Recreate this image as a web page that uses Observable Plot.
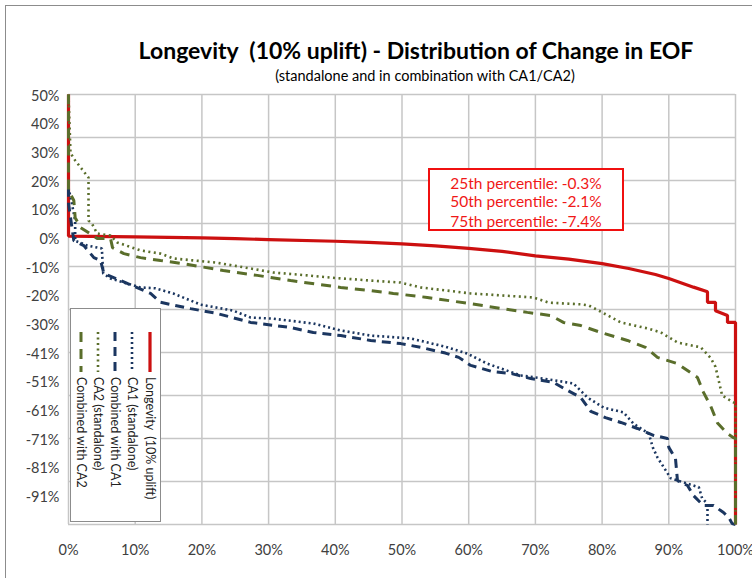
<!DOCTYPE html>
<html>
<head>
<meta charset="utf-8">
<script src="https://cdn.jsdelivr.net/npm/d3@7"></script>
<script src="https://cdn.jsdelivr.net/npm/@observablehq/plot@0.6"></script>
<style>
  html, body { margin: 0; padding: 0; background: #fff; }
  #wrap { position: relative; width: 752px; height: 578px; overflow: hidden; background: #fff; font-family: Lato, "Open Sans", sans-serif; }
  #frame { position: absolute; left: 5px; top: 5px; width: 800px; height: 640px; border: 1px solid #8c8c8c; box-sizing: border-box; }
  #chart { position: absolute; left: 0; top: 0; }
  .title { position: absolute; left: 0; width: 832px; text-align: center; white-space: pre; color: #000; }
  #t1 { top: 36px; font-size: 23px; font-weight: bold; }
  #t2 { top: 67px; font-size: 14.5px; left: 0; width: 850px; }
  #note { position: absolute; left: 428px; top: 168px; width: 196px; height: 63px; border: 2px solid #f01010; box-sizing: border-box; background: #fff; }
  .nl { position: absolute; left: 0; width: 100%; text-align: center; color: #f01818; font-size: 15.5px; line-height: 17px; }
  #legend { position: absolute; left: 70px; top: 308px; width: 91px; height: 214px; border: 1.5px solid #8c8c8c; box-sizing: border-box; background: #fff; }
</style>
</head>
<body>
<div id="wrap">
  <div id="frame"></div>
  <div id="chart"></div>
  <div class="title" id="t1"></div>
  <div class="title" id="t2"></div>
  <div id="note"></div>
  <div id="legend"></div>
</div>
<script>
// ---- Chart text ----
const titleText = "Longevity  (10% uplift) - Distribution of Change in EOF";
const subtitleText = "(standalone and in combination with CA1/CA2)";
const noteLines = ["25th percentile:  -0.3%", "50th percentile:  -2.1%", "75th percentile:  -7.4%"];

// ---- Axes ----
const xTicks = [0, 10, 20, 30, 40, 50, 60, 70, 80, 90, 100];
const yTickValues = [50, 40, 30, 20, 10, 0, -10, -20, -30, -40, -50, -60, -70, -80, -90];
const yTickLabels = ["50%", "40%", "30%", "20%", "10%", "0%", "-10%", "-20%", "-30%", "-41%", "-51%", "-61%", "-71%", "-81%", "-91%"];
const yGridValues = [50, 35, 20, 5, -10, -25, -40, -55, -70, -85, -100];

// ---- Series: [percentile %, change in EOF %] ----
const seriesNames = ["Longevity  (10% uplift)", "CA1 (standalone)", "Combined with CA1", "CA2 (standalone)", "Combined with CA2"];

const longevity = [[0,50],[0,0.6],[10,0.3],[20,0],[25,-0.3],[30,-0.6],[40,-1.2],[45,-1.6],[50,-2.1],[55,-2.8],[60,-3.7],[65,-4.7],[70,-6.3],[75,-7.4],[80,-9.0],[84,-10.7],[88,-12.8],[90,-14.2],[93.7,-17.2],[95.8,-18.8],[95.8,-22.5],[97,-22.5],[97,-25.4],[98.8,-27.1],[98.8,-29.5],[100,-29.5],[100,-100]];

const ca1 = [[0,17.5],[0.5,12],[1,6],[1,-1],[2.8,-2.7],[5,-3.7],[5.2,-12.4],[6.3,-14.2],[10.8,-17.3],[13,-17.6],[15.7,-19.4],[19.8,-23.3],[24.7,-25.4],[27.3,-27.8],[30.7,-28.2],[36.7,-29.9],[40.8,-32.3],[45.3,-34.1],[51.3,-35.1],[56.5,-38],[59.8,-40.4],[62.8,-43.9],[67.8,-48],[71.2,-49.1],[75.7,-50.8],[77.8,-55.7],[80.2,-59.2],[83.2,-60.9],[84.7,-64.8],[87,-68.3],[87.6,-73.1],[88.3,-76.6],[90.3,-83.9],[94.5,-87],[95,-90.9],[95.8,-92.7],[95.8,-100]];

const combCa1 = [[0,17.5],[0,12],[0.8,-1],[2.3,-2.7],[3.8,-6.9],[4.8,-7.9],[5.3,-12.4],[8.8,-15.9],[12.3,-19.4],[13.8,-22.5],[18.3,-24.7],[22.3,-26.4],[27.3,-29.5],[33.3,-31.3],[36.7,-33],[40.8,-34.1],[45.3,-35.8],[49.8,-36.9],[52.8,-38.2],[56.5,-40.2],[58.5,-41.7],[60.3,-44.5],[63.5,-46.6],[66.3,-47.3],[69.3,-49.1],[72.7,-50.4],[74.8,-53.2],[76.8,-55.7],[78.3,-60.5],[80.5,-62.7],[82.8,-64.4],[85.3,-66.5],[87.7,-68.9],[89.8,-70],[90,-73.1],[91,-77],[91.3,-84.7],[92.8,-86.4],[93.7,-89.9],[95.2,-93.4],[96.7,-93.4],[98.2,-95.8],[99,-97.6],[99.5,-99.7],[100,-100]];

const ca2 = [[0,50],[0.3,29.6],[1,27],[2,24],[3,21],[3,6],[3.5,5],[4.3,1.5],[6.3,0.8],[7.3,-1.6],[10.8,-4.4],[13.8,-5.5],[15.7,-7.2],[22,-8.6],[27.3,-10.7],[30.7,-12.1],[35.8,-13.1],[40,-14],[45.3,-14.9],[49.8,-15.6],[52.8,-17.3],[60.3,-19.4],[69.7,-20.8],[72,-22.6],[76.8,-23.2],[78,-23.6],[80,-26],[82.8,-29.5],[86.8,-31.6],[88.8,-33],[91.3,-36.5],[94.8,-38.2],[96.3,-42],[97,-45],[98,-55],[99.7,-57.4],[100,-57.4],[100,-100]];

const combCa2 = [[0,50],[0,16.5],[0.8,13],[1,7],[1.8,3.6],[4.3,-0.2],[6.3,-0.2],[6.6,-3.4],[8.3,-5.5],[10.8,-6.9],[13.8,-7.9],[17.2,-9],[23.2,-11.4],[28.3,-13.1],[33.3,-14.9],[40.8,-17.3],[45.3,-18.4],[48.7,-19.4],[53.8,-20.8],[60.3,-23],[68.8,-26],[72.3,-27.1],[74.2,-29.5],[76.8,-30.6],[79.8,-33],[83.8,-35.8],[86.5,-38.2],[88.3,-41.7],[91.3,-43.9],[94.3,-48.7],[95.2,-53.9],[96.3,-58.8],[97.3,-64.6],[98.8,-68.3],[99.7,-69.7],[100,-69.7],[100,-100]];

// ---- Styles ----
const styles = [
  {stroke: "#cc1010", strokeWidth: 3.2, dash: null},
  {stroke: "#1b3660", strokeWidth: 2.6, dash: "2,3"},
  {stroke: "#1b3660", strokeWidth: 3, dash: "9,6"},
  {stroke: "#5a6e2b", strokeWidth: 2.6, dash: "2,3.5"},
  {stroke: "#5a6e2b", strokeWidth: 3, dash: "10,7"}
];
const allSeries = [longevity, ca1, combCa1, ca2, combCa2];

const labelMap = new Map(yTickValues.map((v, i) => [v, yTickLabels[i]]));

const lineMarks = allSeries.map((s, i) => Plot.line(s, {
  x: d => d[0], y: d => d[1],
  stroke: styles[i].stroke, strokeWidth: styles[i].strokeWidth,
  strokeDasharray: styles[i].dash, strokeLinejoin: "miter", strokeLinecap: "butt"
}));

const chart = Plot.plot({
  width: 752, height: 578,
  marginLeft: 68, marginRight: 17, marginTop: 94, marginBottom: 54,
  style: {fontFamily: "Lato, 'Open Sans', sans-serif", fontSize: "14px", color: "#404040", background: "transparent"},
  x: {domain: [0, 100]},
  y: {domain: [-100, 50]},
  marks: [
    Plot.gridX(xTicks, {stroke: "#c6c6c6", strokeOpacity: 1, strokeWidth: 1.5}),
    Plot.gridY(yGridValues, {stroke: "#c6c6c6", strokeOpacity: 1, strokeWidth: 1.5}),
    Plot.axisX(xTicks, {tickSize: 0, tickPadding: 20, tickFormat: d => d + "%", label: null, fontSize: 14.5}),
    Plot.axisY(yTickValues, {tickSize: 0, tickPadding: 9, dy: 1.5, tickFormat: d => labelMap.get(d), label: null, fontSize: 14.5}),
    ...lineMarks
  ]
});
document.getElementById("chart").appendChild(chart);

document.getElementById("t1").textContent = titleText;
document.getElementById("t2").textContent = subtitleText;

const note = document.getElementById("note");
const noteTops = [5, 23, 43];
noteLines.forEach((t, i) => {
  const d = document.createElement("div");
  d.className = "nl"; d.style.top = noteTops[i] + "px"; d.textContent = t;
  note.appendChild(d);
});

// ---- Legend (rotated) ----
const ns = "http://www.w3.org/2000/svg";
const lg = document.createElementNS(ns, "svg");
lg.setAttribute("width", 88); lg.setAttribute("height", 211);
lg.style.position = "absolute"; lg.style.left = "0"; lg.style.top = "0";
const legendX = [79, 61, 44, 27, 10];
seriesNames.forEach((name, i) => {
  const l = document.createElementNS(ns, "line");
  l.setAttribute("x1", legendX[i]); l.setAttribute("x2", legendX[i]);
  l.setAttribute("y1", 23); l.setAttribute("y2", 63);
  l.setAttribute("stroke", styles[i].stroke);
  l.setAttribute("stroke-width", styles[i].strokeWidth);
  if (styles[i].dash) l.setAttribute("stroke-dasharray", styles[i].dash);
  lg.appendChild(l);
  const t = document.createElementNS(ns, "text");
  t.setAttribute("transform", `translate(${legendX[i]},68) rotate(90)`);
  t.setAttribute("dominant-baseline", "central");
  t.setAttribute("font-size", "12.5");
  t.setAttribute("font-family", "Lato, 'Open Sans', sans-serif");
  t.setAttribute("fill", "#222");
  t.style.whiteSpace = "pre";
  t.textContent = name;
  lg.appendChild(t);
});
document.getElementById("legend").appendChild(lg);
</script>
</body>
</html>
